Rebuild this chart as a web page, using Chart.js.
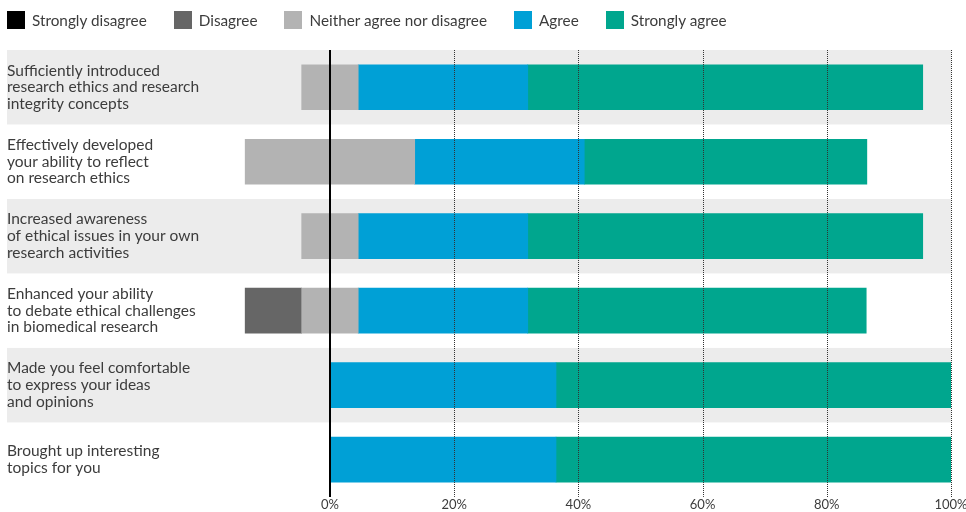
<!DOCTYPE html>
<html>
<head>
<meta charset="utf-8">
<script src="https://cdn.jsdelivr.net/npm/chart.js@4.4.1/dist/chart.umd.min.js"></script>
<style>
  html, body { margin: 0; padding: 0; background: #fff; overflow: hidden; }
  #wrap { position: relative; width: 966px; height: 512px; overflow: hidden; }
  #legend { position: absolute; left: 7px; top: 11px; display: flex; font-family: Lato, "Open Sans", sans-serif; font-size: 15.3px; color: #3c3c3c; line-height: 18px; }
  .item { display: flex; align-items: center; margin-right: 27px; }
  .box { width: 18px; height: 18px; margin-right: 7px; }
  canvas { position: absolute; left: 0; top: 0; }
</style>
</head>
<body>
<div id="wrap">
  <canvas id="chart" width="968" height="522"></canvas>
  <div id="legend"></div>
</div>
<script>
// Statements (one per row)
const categories = [
    ['Sufficiently introduced', 'research ethics and research', 'integrity concepts'],
    ['Effectively developed', 'your ability to reflect', 'on research ethics'],
    ['Increased awareness', 'of ethical issues in your own', 'research activities'],
    ['Enhanced your ability', 'to debate ethical challenges', 'in biomedical research'],
    ['Made you feel comfortable', 'to express your ideas', 'and opinions'],
    ['Brought up interesting', 'topics for you']
];

// Share of answers, in percent
const stronglyDisagree = [0, 0, 0, 0, 0, 0];
const disagree = [0, 0, 0, 9.1, 0, 0];
const neither = [9.1, 27.3, 9.1, 9.1, 0, 0];
const agree = [27.3, 27.3, 27.3, 27.3, 36.4, 36.4];
const stronglyAgree = [63.6, 45.5, 63.6, 54.5, 63.6, 63.6];

const seriesNames = ['Strongly disagree', 'Disagree', 'Neither agree nor disagree', 'Agree', 'Strongly agree'];
const seriesColors = ['#000000', '#666666', '#b3b3b3', '#00a0d6', '#00a68e'];

const xTicks = [0, 20, 40, 60, 80, 100];

// Build the legend
const legend = document.getElementById('legend');
seriesNames.forEach((name, i) => {
    const item = document.createElement('div');
    item.className = 'item';
    const box = document.createElement('span');
    box.className = 'box';
    box.style.background = seriesColors[i];
    const label = document.createElement('span');
    label.textContent = name;
    item.appendChild(box);
    item.appendChild(label);
    legend.appendChild(item);
});

function bar(label, data, color) {
    return { label: label, data: data, backgroundColor: color, borderWidth: 0, barThickness: 45 };
}

// zero values are left out so no hairline slivers are drawn
const neg = v => (v ? -v : null);
const pos = v => (v ? v : null);

// negative side: neither (half) closest to zero, then disagree, then strongly disagree
const datasets = [
    bar(seriesNames[2], neither.map(v => neg(v / 2)), seriesColors[2]),
    bar(seriesNames[1], disagree.map(neg), seriesColors[1]),
    bar(seriesNames[0], stronglyDisagree.map(neg), seriesColors[0]),
    bar(seriesNames[2], neither.map(v => pos(v / 2)), seriesColors[2]),
    bar(seriesNames[3], agree.map(pos), seriesColors[3]),
    bar(seriesNames[4], stronglyAgree.map(pos), seriesColors[4])
];

// Gray bands behind every other row
const bandPlugin = {
    id: 'bands',
    beforeDraw(chart) {
        const { ctx, chartArea, scales } = chart;
        const h = chartArea.height / categories.length;
        ctx.save();
        ctx.fillStyle = '#ececec';
        categories.forEach((c, i) => {
            if (i % 2 !== 0) return;
            const y = scales.y.getPixelForValue(i);
            ctx.fillRect(chartArea.left, y - h / 2, chartArea.right - chartArea.left, h);
        });
        ctx.restore();
    }
};

// Dotted grid lines and the solid zero line, on top of the bars
const gridPlugin = {
    id: 'grid',
    afterDatasetsDraw(chart) {
        const { ctx, chartArea, scales } = chart;
        ctx.save();
        xTicks.forEach(v => {
            const x = Math.round(scales.x.getPixelForValue(v));
            ctx.beginPath();
            if (v === 0) {
                ctx.setLineDash([]);
                ctx.lineWidth = 2;
                ctx.strokeStyle = '#000';
                ctx.moveTo(x, chartArea.top);
                ctx.lineTo(x, chartArea.bottom);
            } else {
                ctx.setLineDash([1, 1]);
                ctx.lineWidth = 1;
                ctx.strokeStyle = '#333';
                ctx.moveTo(x + 0.5, chartArea.top);
                ctx.lineTo(x + 0.5, chartArea.bottom);
            }
            ctx.stroke();
        });
        ctx.restore();
    }
};

const ctx = document.getElementById('chart').getContext('2d');
new Chart(ctx, {
    type: 'bar',
    data: { labels: categories, datasets: datasets },
    options: {
        indexAxis: 'y',
        responsive: false,
        animation: false,
        layout: { padding: { top: 50, left: 7, right: 17, bottom: 0 } },
        plugins: { legend: { display: false }, tooltip: { enabled: false } },
        scales: {
            x: {
                type: 'linear',
                stacked: true,
                min: -52,
                max: 100,
                afterBuildTicks: scale => { scale.ticks = xTicks.map(v => ({ value: v })); },
                grid: { display: false, drawTicks: false },
                border: { display: false },
                ticks: {
                    autoSkip: false,
                    maxRotation: 0,
                    padding: 0,
                    color: '#3c3c3c',
                    font: { family: 'Lato, "Open Sans", sans-serif', size: 13, lineHeight: 1.15 },
                    callback: v => v + '%'
                }
            },
            y: {
                stacked: true,
                grid: { display: false, drawTicks: false },
                border: { display: false },
                ticks: {
                    mirror: true,
                    padding: 0,
                    color: '#3c3c3c',
                    font: { family: 'Lato, "Open Sans", sans-serif', size: 15.5, lineHeight: 1.08 }
                }
            }
        }
    },
    plugins: [bandPlugin, gridPlugin]
});
</script>
</body>
</html>
